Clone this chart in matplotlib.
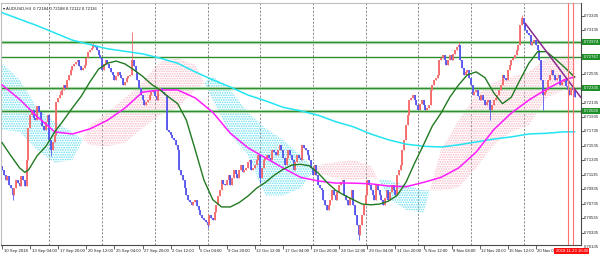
import numpy as np
import pandas as pd
import matplotlib
matplotlib.use("Agg")
import matplotlib.pyplot as plt
import matplotlib.transforms as mtransforms
from matplotlib import font_manager

installed = {f.name for f in font_manager.fontManager.ttflist}
if 'Liberation Sans Narrow' in installed:
    plt.rcParams['font.family'] = ['Liberation Sans Narrow', 'DejaVu Sans']
    FS = 3.75
else:
    plt.rcParams['font.family'] = ['Liberation Sans', 'DejaVu Sans']
    FS = 3.05
plt.rcParams['hatch.linewidth'] = 0.8

# AUDUSD H4 closes in pips (0.0001), first bar 10 Sep 2018 12:00
closes = [
    7120, 7113, 7106, 7112, 7099, 7095, 7085, 7095, 7106, 7102,
    7098, 7112, 7106, 7098, 7134, 7178, 7196, 7203, 7192, 7189,
    7209, 7200, 7189, 7181, 7176, 7187, 7196, 7162, 7148, 7159,
    7169, 7214, 7220, 7224, 7231, 7238, 7234, 7245, 7252, 7259,
    7264, 7267, 7270, 7273, 7264, 7259, 7261, 7266, 7275, 7284,
    7286, 7289, 7293, 7291, 7286, 7279, 7275, 7259, 7267, 7273,
    7267, 7261, 7256, 7252, 7245, 7250, 7256, 7252, 7248, 7238,
    7242, 7248, 7250, 7252, 7273, 7264, 7256, 7245, 7234, 7224,
    7217, 7210, 7214, 7217, 7224, 7228, 7231, 7223, 7217, 7231,
    7234, 7228, 7225, 7224, 7176, 7173, 7169, 7164, 7162, 7155,
    7148, 7120, 7113, 7106, 7095, 7085, 7079, 7076, 7072, 7076,
    7079, 7070, 7065, 7058, 7054, 7051, 7048, 7044, 7058, 7054,
    7051, 7062, 7072, 7084, 7092, 7106, 7101, 7099, 7106, 7113,
    7099, 7109, 7120, 7115, 7109, 7120, 7127, 7117, 7120, 7123,
    7131, 7134, 7120, 7123, 7127, 7134, 7141, 7109, 7123, 7134,
    7137, 7141, 7137, 7134, 7148, 7145, 7141, 7148, 7155, 7148,
    7137, 7127, 7137, 7148, 7141, 7134, 7120, 7131, 7141, 7137,
    7134, 7155, 7151, 7148, 7141, 7134, 7123, 7113, 7127, 7113,
    7099, 7095, 7092, 7079, 7072, 7065, 7072, 7079, 7092, 7085,
    7079, 7090, 7099, 7103, 7106, 7085, 7079, 7072, 7081, 7092,
    7072, 7058, 7044, 7030, 7044, 7058, 7072, 7085, 7106, 7099,
    7092, 7085, 7079, 7099, 7092, 7085, 7079, 7072, 7081, 7092,
    7079, 7090, 7099, 7092, 7085, 7113, 7120, 7127, 7148, 7162,
    7182, 7196, 7217, 7220, 7224, 7217, 7210, 7203, 7212, 7217,
    7210, 7203, 7206, 7210, 7231, 7238, 7245, 7248, 7252, 7273,
    7275, 7279, 7273, 7266, 7273, 7279, 7273, 7281, 7286, 7291,
    7293, 7273, 7261, 7252, 7256, 7259, 7248, 7238, 7224, 7228,
    7231, 7223, 7217, 7224, 7217, 7210, 7214, 7217, 7203, 7210,
    7217, 7220, 7224, 7231, 7238, 7252, 7248, 7245, 7259, 7266,
    7273, 7275, 7279, 7286, 7293, 7321, 7331, 7322, 7314, 7310,
    7307, 7293, 7297, 7300, 7293, 7286, 7273, 7245, 7224, 7228,
    7231, 7245, 7252, 7259, 7252, 7245, 7248, 7252, 7238, 7242,
    7245, 7237, 7231, 7224, 7234, 7231, 7221,
]
first_open = 7125
# long wicks that stand out (bar -> pips)
wick_highs = {33: 7230, 52: 7296, 74: 7311, 260: 7297, 296: 7335}
wick_lows = {6: 7078, 28: 7140, 117: 7040, 147: 7102, 203: 7023, 278: 7189, 308: 7203}

# moving averages (pips)
cyan_bars = [0, 20, 40, 60, 80, 90, 100, 110, 120, 130, 140, 150, 160, 170, 180,
             190, 200, 210, 220, 230, 240, 250, 260, 270, 280, 290, 300, 310, 320, 326]
cyan_ma = [7338, 7320, 7300, 7288, 7281, 7275, 7268, 7256, 7245, 7235, 7224, 7216, 7207, 7202, 7196,
           7187, 7180, 7170, 7162, 7156, 7153, 7152, 7155, 7159, 7163, 7166, 7170, 7171, 7173, 7173]

mag_bars = [0, 10, 20, 30, 40, 50, 60, 70, 80, 90, 100, 110, 120, 130, 140, 150, 160,
            170, 180, 190, 200, 210, 220, 230, 240, 250, 260, 270, 280, 290, 300, 310, 320, 326]
mag_ma = [7238, 7218, 7194, 7173, 7170, 7177, 7189, 7206, 7228, 7231, 7231, 7220, 7200, 7171, 7151, 7137, 7123,
          7110, 7105, 7102, 7102, 7101, 7098, 7097, 7103, 7110, 7123, 7145, 7176, 7199, 7217, 7232, 7245, 7249]

grn_bars = [0, 5, 10, 13] + list(range(15, 325, 5)) + [326]
grn_ma = [7158, 7140, 7123, 7117, 7120, 7140, 7153, 7173, 7189, 7206, 7222, 7242, 7260, 7268, 7271,
          7267, 7259, 7250, 7239, 7231, 7221, 7212, 7189, 7148, 7106, 7079, 7069, 7069, 7075, 7084,
          7095, 7103, 7113, 7121, 7127, 7128, 7126, 7116, 7103, 7092, 7085, 7079, 7073, 7072, 7073,
          7077, 7085, 7103, 7130, 7155, 7181, 7199, 7221, 7238, 7252, 7256, 7248, 7227, 7212, 7221,
          7245, 7268, 7284, 7284, 7274, 7263, 7249]

# ichimoku cloud spans (pips)
cloud_bars = [0, 10, 20, 30, 40, 50, 60, 70, 80, 90, 100, 110, 120, 130, 140, 150, 160,
              170, 180, 190, 200, 210, 220, 230, 240, 250, 260, 270, 280, 290, 300, 310, 320, 326]
span_a = [7268, 7245, 7206, 7187, 7173, 7155, 7153, 7158, 7178, 7196, 7206, 7231, 7250, 7231, 7200, 7178, 7162,
          7141, 7116, 7109, 7106, 7109, 7106, 7099, 7092, 7092, 7096, 7123, 7155, 7173, 7182, 7220, 7231, 7231]
span_b = [7176, 7173, 7148, 7130, 7134, 7182, 7200, 7220, 7242, 7270, 7275, 7266, 7217, 7169, 7141, 7085, 7085,
          7095, 7127, 7131, 7134, 7126, 7081, 7065, 7061, 7148, 7189, 7224, 7242, 7249, 7256, 7275, 7279, 7279]

levels = [0.72974, 0.72767, 0.72335, 0.72020]
trend_bars = [298, 329.5]
trend_pips = [7323, 7221]
red_lines = [322, 325]
time_tag = "2018.11.23 16:00"
header = "AUDUSD,H4  0.72184 0.72188 0.72112 0.72116"
price_ticks = [0.70135 + 0.002 * k for k in range(17)]

n = len(closes)
c = np.array(closes) / 1e4
o = np.array([first_open] + closes[:-1]) / 1e4
hi = np.maximum(o, c)
lo = np.minimum(o, c)
for b, v in wick_highs.items():
    hi[b] = v / 1e4
for b, v in wick_lows.items():
    lo[b] = v / 1e4
bars = np.arange(n)

times = pd.date_range("2018-09-10 12:00", periods=700, freq="4h")
times = times[times.dayofweek < 5][:n]

fig = plt.figure(figsize=(6, 2.59), dpi=100, facecolor='white')
ax = fig.add_axes([1 / 600, 14 / 259, 579.5 / 600, 242 / 259])
ax.set_xlim(-0.6, 329.4)
ax.set_ylim(0.70163, 0.73514)

# weekly dotted grid
for b in bars[(times.dayofweek == 0) & (times.hour == 0)]:
    ax.axvline(b, color='#8c8c8c', lw=0.7, ls=(0, (2.2, 1.6)), zorder=0.5)

# cloud
cb = np.array(cloud_bars)
sa = np.array(span_a) / 1e4
sb = np.array(span_b) / 1e4
ax.fill_between(cb, sa, sb, where=sa >= sb, interpolate=True, facecolor='none',
                edgecolor='#62dcee', hatch='.......', lw=0, zorder=1)
ax.fill_between(cb, sa, sb, where=sa < sb, interpolate=True, facecolor='none',
                edgecolor='#f7b8c4', hatch='.......', lw=0, zorder=1)

# horizontal levels
for i, lv in enumerate(levels):
    if i != 1:
        ax.axhline(lv, color='#c4e6c4', lw=2.4, zorder=1.4)
    ax.axhline(lv, color='#2f8f2f', lw=1.0, zorder=1.5)

# candles
up = c >= o
col = np.where(up, '#f46a6a', '#5656ee')
ax.vlines(bars, lo, hi, colors=col, lw=0.6, zorder=2)
ax.vlines(bars, np.minimum(o, c), np.maximum(o, c), colors=col, lw=1.3, zorder=2.1)

# indicators
ax.plot(cyan_bars, np.array(cyan_ma) / 1e4, color='#22e4f2', lw=1.1, zorder=3)
ax.plot(mag_bars, np.array(mag_ma) / 1e4, color='#ff1cff', lw=1.1, zorder=3)
ax.plot(grn_bars, np.array(grn_ma) / 1e4, color='#217a21', lw=1.0, zorder=3.1)
ax.plot(trend_bars, np.array(trend_pips) / 1e4, color='#8a2a8e', lw=1.1, zorder=3.2)
for b in red_lines:
    ax.axvline(b, color='#ff7070', lw=0.8, zorder=3.3)

# spines
for s in ('left', 'top'):
    ax.spines[s].set_color('#bdbdbd')
    ax.spines[s].set_linewidth(0.8)
for s in ('right', 'bottom'):
    ax.spines[s].set_color('#4a4a4a')
    ax.spines[s].set_linewidth(0.8)

# price axis: tick marks from the axis, labels as texts
ax.yaxis.tick_right()
shown = [p for p in price_ticks if min(abs(p - l) for l in levels) > 0.0006]
ax.set_yticks([p for p in shown if p > 0.70163])
ax.set_yticklabels([])
ax.tick_params(axis='y', length=2.5, width=0.6, color='#4a4a4a')
ytr = mtransforms.blended_transform_factory(ax.transAxes, ax.transData)
yoff = mtransforms.ScaledTranslation(3.0 / 100, 0, fig.dpi_scale_trans)
for p in shown:
    ax.text(1.0, p, '%.5f' % p, transform=ytr + yoff, fontsize=FS, va='center', ha='left',
            color='#202020', clip_on=False)
for lv in levels:
    ax.text(1.0, lv, '%.5f' % lv, transform=ytr + yoff, fontsize=FS, va='center', ha='left',
            color='white', clip_on=False, zorder=6,
            bbox=dict(boxstyle='square,pad=0.3', fc='#1f8f2a', ec='none'))

# time axis
lab_bars = list(range(0, n - 10, 16))
labels = []
for b in lab_bars:
    t = times[b]
    if b == 0:
        labels.append('%d %s %d' % (t.day, t.strftime('%b'), t.year))
    else:
        labels.append('%d %s %s' % (t.day, t.strftime('%b'), t.strftime('%H:%M')))
ax.set_xticks(lab_bars)
ax.set_xticklabels([])
ax.tick_params(axis='x', length=3, width=0.6, color='#4a4a4a')
xtr = mtransforms.blended_transform_factory(ax.transData, ax.transAxes)
off = mtransforms.ScaledTranslation(1.5 / 100, -6.0 / 100, fig.dpi_scale_trans)
for b, s in zip(lab_bars, labels):
    ax.text(b, 0, s, transform=xtr + off, fontsize=FS, va='center', ha='left',
            color='#202020', clip_on=False)
ax.text(red_lines[1], 0, time_tag, transform=xtr + mtransforms.ScaledTranslation(
    -1.0 / 100, -6.0 / 100, fig.dpi_scale_trans), fontsize=FS, va='center', ha='center',
    color='white', clip_on=False, zorder=7,
    bbox=dict(boxstyle='square,pad=0.35', fc='#ff1010', ec='none'))

# header
ax.text(0.004, 0.985, '\u25be ' + header, transform=ax.transAxes, fontsize=FS, va='top',
        ha='left', color='#202020', zorder=8)

fig.savefig('out.png', dpi=100, facecolor='white')
